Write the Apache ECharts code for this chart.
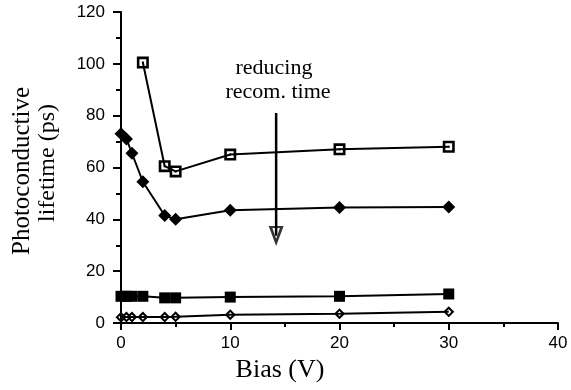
<!DOCTYPE html>
<html>
<head>
<meta charset="utf-8">
<script src="https://cdn.jsdelivr.net/npm/echarts@6/dist/echarts.min.js"></script>
<style>
  html, body { margin: 0; padding: 0; background: #fff; }
  #chart { width: 571px; height: 390px; }
</style>
</head>
<body>
<div id="chart"></div>
<script>
// bias values (V)
const biasTop = [2, 4, 5, 10, 20, 30];
const bias = [0, 0.5, 1, 2, 4, 5, 10, 20, 30];

// photoconductive lifetime (ps)
const openSquare = [100.5, 60.5, 58.5, 65, 67, 68];
const filledDiamond = [73, 71, 65.5, 54.5, 41.5, 40, 43.5, 44.6, 44.8];
const filledSquare = [10.3, 10.3, 10.3, 10.3, 9.7, 9.7, 10, 10.3, 11.2];
const openDiamond = [2.2, 2.3, 2.3, 2.3, 2.3, 2.4, 3.2, 3.6, 4.3];

// annotation arrow (bias, lifetime)
const arrowFrom = [14.2, 81];
const arrowTo = [14.2, 29.7];

const pair = (xs, ys) => xs.map((x, i) => [x, ys[i]]);

// hollow marker shapes (outer ring, hole, centre dot)
const sqOpen = 'path://M0,0L12,0L12,12L0,12Z M2.6,2.6L2.6,9.4L9.4,9.4L9.4,2.6Z M5,5L7,5L7,7L5,7Z';
const diaOpen = 'path://M5,0L10,5L5,10L0,5Z M5,2.6L2.6,5L5,7.4L7.4,5Z';
const arrowHead = 'path://M0,0L12,0L6,18Z M3,1.8L6,11.5L9,1.8Z';

const serif = '"Liberation Serif", "DejaVu Serif", serif';
const sans = '"Liberation Sans", Arial, sans-serif';

const line = (data, symbol, size) => ({
  type: 'line',
  data: data,
  symbol: symbol,
  symbolSize: size,
  showAllSymbol: true,
  lineStyle: { color: '#000', width: 2 },
  itemStyle: { color: '#000', borderWidth: 0 },
  z: 3
});

const label = (text, size, x, y, rot) => ({
  type: 'text',
  x: x,
  y: y,
  rotation: rot || 0,
  style: { text: text, font: size + 'px ' + serif, fill: '#000', align: 'center', verticalAlign: 'middle' }
});

let myChart = echarts.init(document.getElementById('chart'));
myChart.setOption({
  animation: false,
  backgroundColor: '#fff',
  grid: { left: 121, top: 12, right: 13, bottom: 67 },
  xAxis: {
    type: 'value',
    min: 0,
    max: 40,
    interval: 10,
    axisLine: { onZero: false, lineStyle: { color: '#000', width: 2 } },
    axisTick: { show: true, length: 7, lineStyle: { color: '#000', width: 2 } },
    minorTick: { show: true, splitNumber: 2, length: 4, lineStyle: { color: '#000', width: 2 } },
    splitLine: { show: false },
    axisLabel: { color: '#000', fontFamily: sans, fontSize: 17, margin: 12 }
  },
  yAxis: {
    type: 'value',
    min: 0,
    max: 120,
    interval: 20,
    axisLine: { show: true, onZero: false, lineStyle: { color: '#000', width: 2 } },
    axisTick: { show: true, length: 8, lineStyle: { color: '#000', width: 2 } },
    minorTick: { show: true, splitNumber: 2, length: 5, lineStyle: { color: '#000', width: 2 } },
    splitLine: { show: false },
    axisLabel: { color: '#000', fontFamily: sans, fontSize: 17, margin: 16 }
  },
  graphic: [
    label('Photoconductive', 25, 22, 171, Math.PI / 2),
    label('lifetime (ps)', 24, 48, 163, Math.PI / 2),
    label('Bias (V)', 26, 280, 370),
    label('reducing', 22, 274, 68),
    label('recom. time', 22, 278, 92)
  ],
  series: [
    line(pair(biasTop, openSquare), sqOpen, 12),
    line(pair(bias, filledDiamond), 'diamond', 13),
    line(pair(bias, filledSquare), 'rect', 11),
    line(pair(bias, openDiamond), diaOpen, 11),
    {
      type: 'line',
      data: [arrowFrom, [arrowTo[0], arrowTo[1] + 4]],
      symbol: 'none',
      lineStyle: { color: '#000', width: 2.5 },
      z: 2
    },
    {
      type: 'scatter',
      data: [arrowTo],
      symbol: arrowHead,
      symbolSize: [15, 20],
      symbolOffset: [0, '-50%'],
      itemStyle: { color: '#000' },
      z: 4
    }
  ]
});
</script>
</body>
</html>
